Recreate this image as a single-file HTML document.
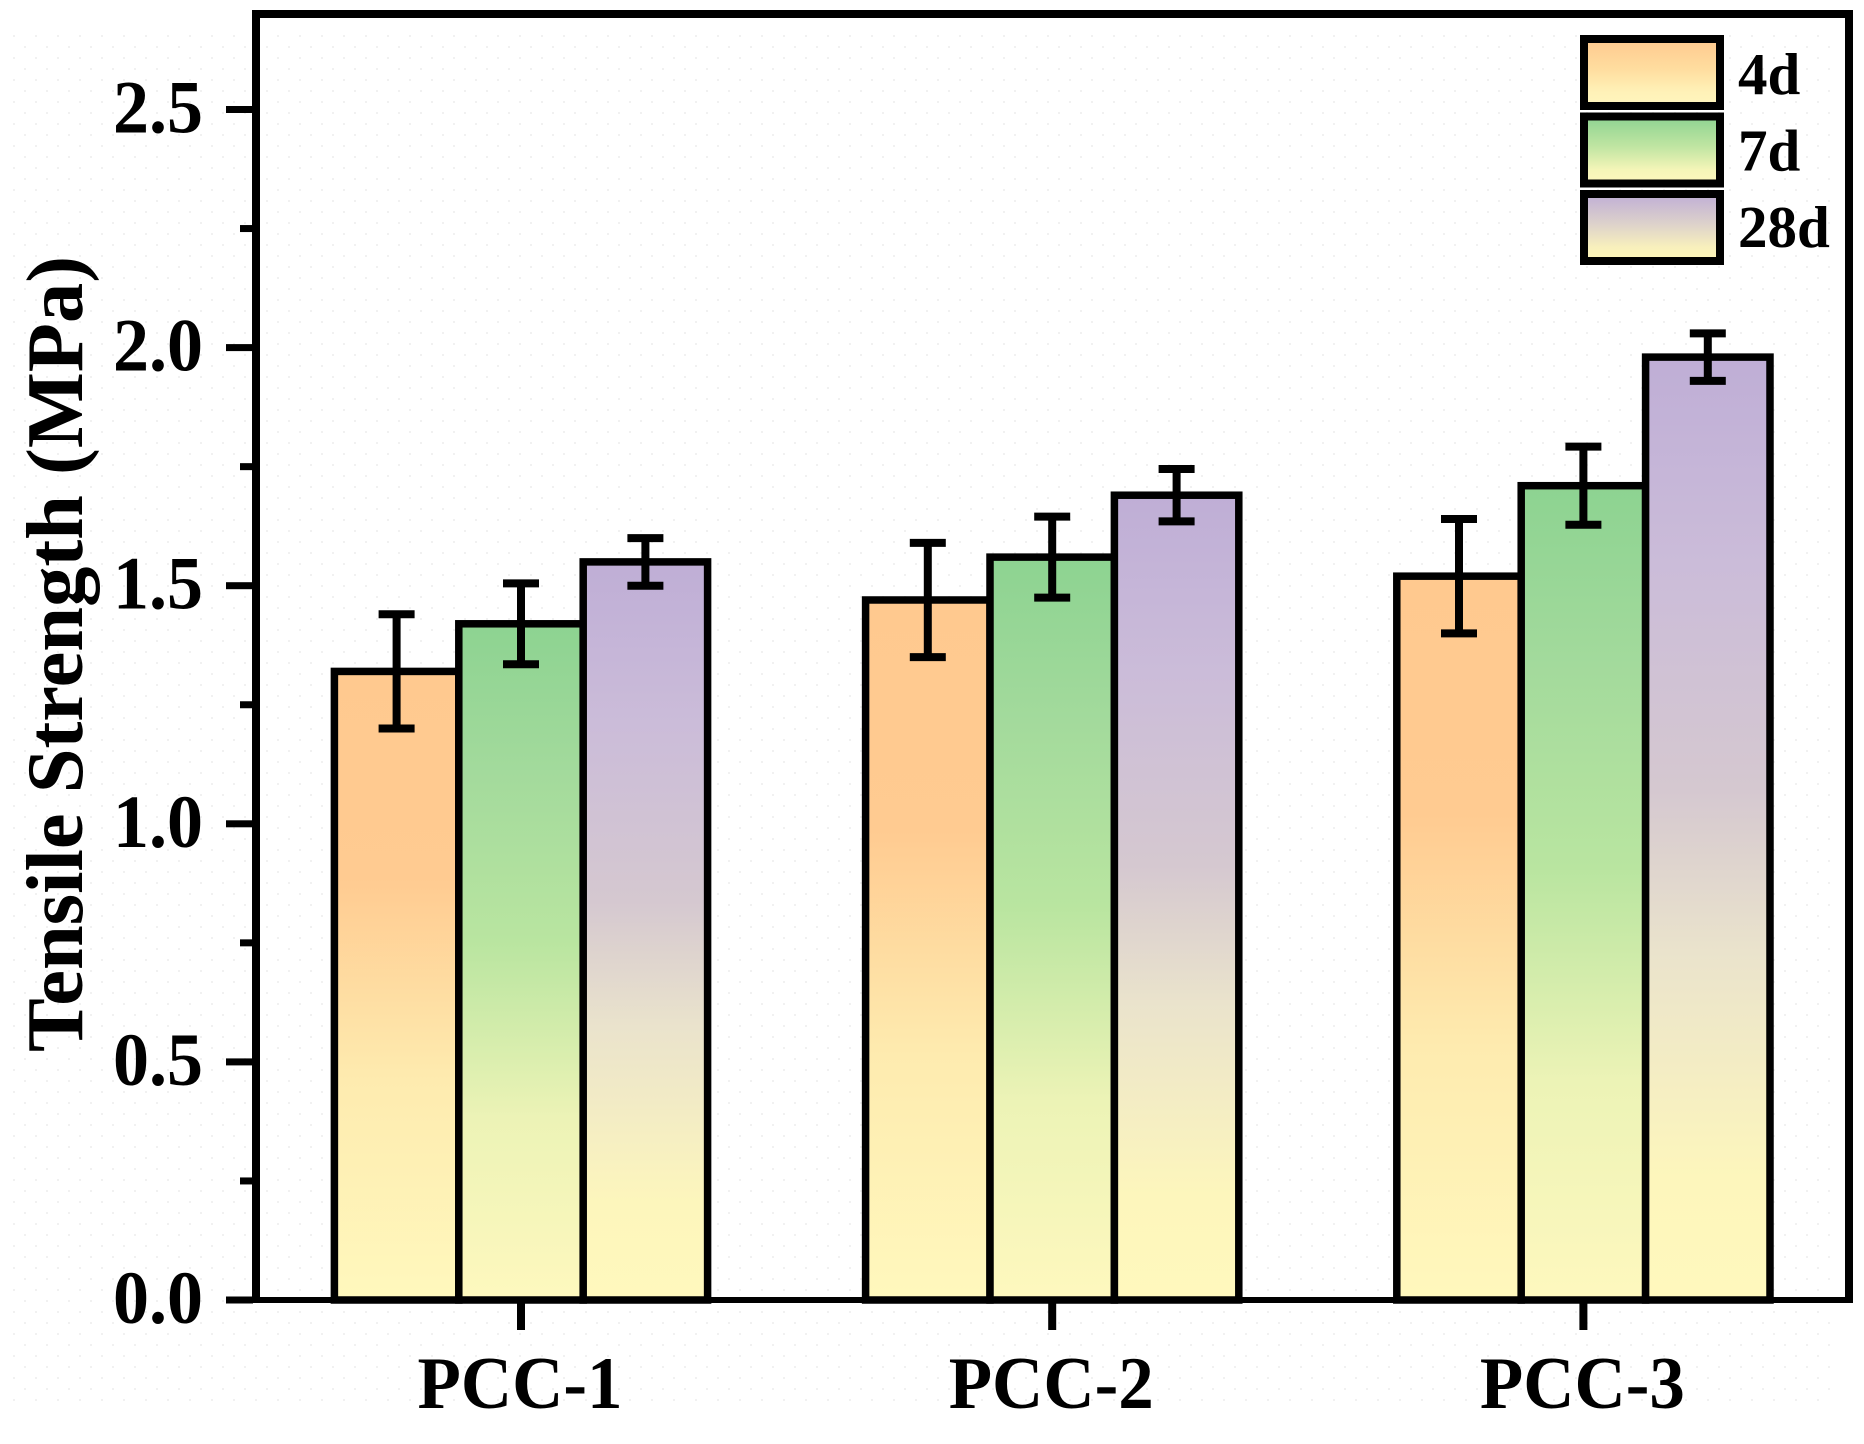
<!DOCTYPE html>
<html lang="en">
<head>
<meta charset="utf-8">
<title>Tensile Strength Bar Chart</title>
<style>
html,body{margin:0;padding:0;background:#fff;}
svg{display:block;}
text{font-family:"Liberation Serif",serif;font-weight:bold;fill:#000;}
</style>
</head>
<body>
<svg id="chart" xmlns="http://www.w3.org/2000/svg" width="1864" height="1444" viewBox="0 0 1864 1444">
  <defs>
    <pattern id="dots" width="22" height="22" patternUnits="userSpaceOnUse">
      <rect x="2" y="2" width="2" height="2" fill="#f1f1f1"/>
      <rect x="13" y="13" width="2" height="2" fill="#f1f1f1"/>
    </pattern>
    <linearGradient id="grad-0" x1="0" y1="0" x2="0" y2="1">
      <stop offset="0" stop-color="#FFC98F"/>
      <stop offset="0.33" stop-color="#FFCB91"/>
      <stop offset="0.65" stop-color="#FEEBAF"/>
      <stop offset="1" stop-color="#FFF8BD"/>
    </linearGradient>
    <linearGradient id="grad-1" x1="0" y1="0" x2="0" y2="1">
      <stop offset="0" stop-color="#8DD391"/>
      <stop offset="0.22" stop-color="#A3DA9C"/>
      <stop offset="0.47" stop-color="#B9E5A0"/>
      <stop offset="0.73" stop-color="#ECF3B6"/>
      <stop offset="1" stop-color="#FEF8BE"/>
    </linearGradient>
    <linearGradient id="grad-2" x1="0" y1="0" x2="0" y2="1">
      <stop offset="0" stop-color="#BFAED6"/>
      <stop offset="0.22" stop-color="#CBBCD9"/>
      <stop offset="0.46" stop-color="#D5C8D0"/>
      <stop offset="0.63" stop-color="#EAE3CC"/>
      <stop offset="0.87" stop-color="#FDF6BC"/>
      <stop offset="1" stop-color="#FFF8BD"/>
    </linearGradient>
    <linearGradient id="leg-0" x1="0" y1="0" x2="0" y2="1">
      <stop offset="0" stop-color="#FFC98F"/>
      <stop offset="0.45" stop-color="#FFDD9F"/>
      <stop offset="0.8" stop-color="#FFF2B8"/>
      <stop offset="1" stop-color="#FFF5BD"/>
    </linearGradient>
    <linearGradient id="leg-1" x1="0" y1="0" x2="0" y2="1">
      <stop offset="0" stop-color="#8DD391"/>
      <stop offset="0.45" stop-color="#C0E5A2"/>
      <stop offset="0.8" stop-color="#F5F5B8"/>
      <stop offset="1" stop-color="#FEF6BD"/>
    </linearGradient>
    <linearGradient id="leg-2" x1="0" y1="0" x2="0" y2="1">
      <stop offset="0" stop-color="#BFAED6"/>
      <stop offset="0.45" stop-color="#DDD2CB"/>
      <stop offset="0.8" stop-color="#F8F0BC"/>
      <stop offset="1" stop-color="#FFF6B8"/>
    </linearGradient>
  </defs>
  <rect x="10" y="30" width="1825" height="1380" fill="url(#dots)"/>
  <g id="bars"></g>
  <g id="errors"></g>
  <g id="axes"></g>
  <g id="legend"></g>
  <text transform="translate(82,1052) rotate(-90)" font-size="80.5">Tensile Strength (MPa)</text>
</svg>
<script>
const categories = ['PCC-1', 'PCC-2', 'PCC-3'];
const seriesNames = ['4d', '7d', '28d'];
const values4d = [1.32, 1.47, 1.52];
const values7d = [1.42, 1.56, 1.71];
const values28d = [1.55, 1.69, 1.98];
const errors4d = [0.12, 0.12, 0.12];
const errors7d = [0.085, 0.085, 0.082];
const errors28d = [0.05, 0.055, 0.05];
const majorTicks = [0, 0.5, 1, 1.5, 2, 2.5];
const majorTickLabels = ['0.0', '0.5', '1.0', '1.5', '2.0', '2.5'];
const minorTicks = [0.25, 0.75, 1.25, 1.75, 2.25];

const seriesValues = [values4d, values7d, values28d];
const seriesErrors = [errors4d, errors7d, errors28d];
const NS = 'http://www.w3.org/2000/svg';
function yScale(v) { return 1300 - v * 476.2; }
function xCategory(i) { return 521 + i * 531.2; }
function xBar(i, s) { return xCategory(i) + (s - 1) * 124.4; }
function make(tag, attrs, parent) {
  const el = document.createElementNS(NS, tag);
  for (const k in attrs) el.setAttribute(k, attrs[k]);
  parent.appendChild(el);
  return el;
}

const barsG = document.getElementById('bars');
const errG = document.getElementById('errors');
const axesG = document.getElementById('axes');
const legG = document.getElementById('legend');

categories.forEach(function (cat, i) {
  seriesNames.forEach(function (name, s) {
    const v = seriesValues[s][i];
    const cx = xBar(i, s);
    const top = yScale(v);
    const bar = make('rect', { x: cx - 62.2, y: top, width: 124.4, height: yScale(0) - top, fill: 'url(#grad-' + s + ')', stroke: '#000', 'stroke-width': 7.5 }, barsG);
    
    
  });
});

categories.forEach(function (cat, i) {
  seriesNames.forEach(function (name, s) {
    const v = seriesValues[s][i];
    const e = seriesErrors[s][i];
    const cx = xBar(i, s);
    const yHi = yScale(v + e);
    const yLo = yScale(v - e);
    const g = make('g', { stroke: '#000', fill: 'none' }, errG);
    
    
    make('line', { x1: cx, x2: cx, y1: yHi, y2: yLo, 'stroke-width': 8 }, g);
    make('line', { x1: cx - 18, x2: cx + 18, y1: yHi, y2: yHi, 'stroke-width': 8 }, g);
    make('line', { x1: cx - 18, x2: cx + 18, y1: yLo, y2: yLo, 'stroke-width': 8 }, g);
  });
});

const frameTop = make('rect', { x: 252, y: 10, width: 1601, height: 8, fill: '#000' }, axesG);


const frameRight = make('rect', { x: 1845, y: 10, width: 8, height: 1293, fill: '#000' }, axesG);


const yAxisLine = make('rect', { x: 252, y: 10, width: 8, height: 1293, fill: '#000' }, axesG);


const xAxisLine = make('rect', { x: 226, y: 1297, width: 1627, height: 6, fill: '#000' }, axesG);



majorTicks.forEach(function (v, i) {
  const y = yScale(v);
  const tick = make('rect', { x: 226, y: y - 3.5, width: 27, height: 7, fill: '#000' }, axesG);
  
  
  const label = make('text', { transform: 'translate(203,' + (y + 23) + ') scale(1,1.04)', 'text-anchor': 'end', 'font-size': 72 }, axesG);
  label.textContent = majorTickLabels[i];
  
  
});

minorTicks.forEach(function (v) {
  const tick = make('rect', { x: 240, y: yScale(v) - 3.5, width: 13, height: 7, fill: '#000' }, axesG);
  
  
});

categories.forEach(function (cat, i) {
  const x = xCategory(i);
  const tick = make('rect', { x: x - 4, y: 1303, width: 8, height: 27, fill: '#000' }, axesG);
  
  
  const label = make('text', { transform: 'translate(' + (x - 1) + ',1408) scale(1,1.04)', 'text-anchor': 'middle', 'font-size': 71 }, axesG);
  label.textContent = cat;
  
  
});

seriesNames.forEach(function (name, s) {
  const top = 39 + s * 77.5;
  const swatch = make('rect', { x: 1584, y: top, width: 136, height: 67, fill: 'url(#leg-' + s + ')', stroke: '#000', 'stroke-width': 8 }, legG);
  
  
  const label = make('text', { x: 1738, y: 94 + s * 76.5, 'font-size': 59 }, legG);
  label.textContent = name;
  
  
});
</script>
</body>
</html>
